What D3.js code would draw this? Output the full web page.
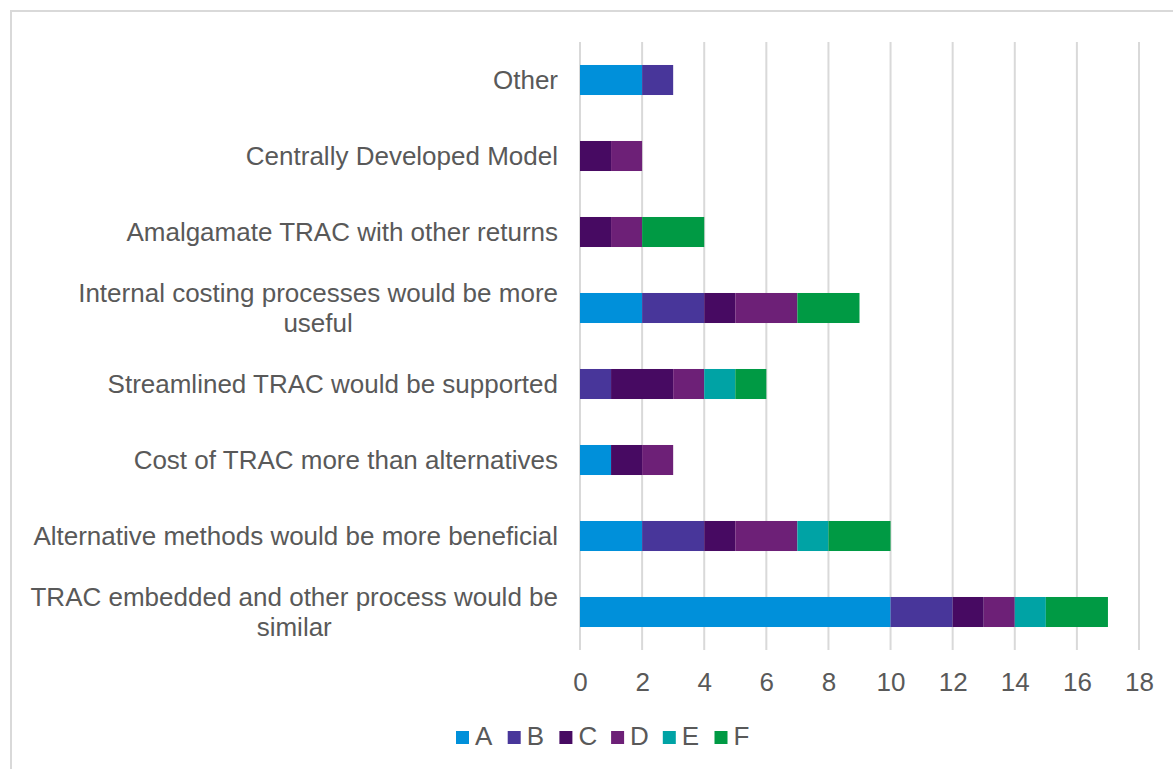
<!DOCTYPE html>
<html>
<head>
<meta charset="utf-8">
<script src="https://cdn.jsdelivr.net/npm/d3@7"></script>
<style>
  html, body { margin: 0; padding: 0; background: #fff; }
  svg { display: block; }
</style>
</head>
<body>
<svg id="chart" width="1173" height="769"></svg>
<script>
// ---- data ----
const categories = [
  "Other",
  "Centrally Developed Model",
  "Amalgamate TRAC with other returns",
  "Internal costing processes would be more useful",
  "Streamlined TRAC would be supported",
  "Cost of TRAC more than alternatives",
  "Alternative methods would be more beneficial",
  "TRAC embedded and other process would be similar"
];
const seriesNames = ["A", "B", "C", "D", "E", "F"];
const seriesColors = ["#0090DA", "#48369A", "#470A62", "#6D2077", "#00A3A5", "#009A44"];
const valuesA = [2, 0, 0, 2, 0, 1, 2, 10];
const valuesB = [1, 0, 0, 2, 1, 0, 2, 2];
const valuesC = [0, 1, 1, 1, 2, 1, 1, 1];
const valuesD = [0, 1, 1, 2, 1, 1, 2, 1];
const valuesE = [0, 0, 0, 0, 1, 0, 1, 1];
const valuesF = [0, 0, 2, 2, 1, 0, 2, 2];
const tickValues = [0, 2, 4, 6, 8, 10, 12, 14, 16, 18];

const allSeries = [valuesA, valuesB, valuesC, valuesD, valuesE, valuesF];
const rows = categories.map((c, i) => {
  const r = { cat: c };
  seriesNames.forEach((s, j) => r[s] = allSeries[j][i]);
  return r;
});

const svg = d3.select("#chart");
const textColor = "#595959";
const fontFamily = "'Liberation Sans', Arial, sans-serif";
const fontSize = 26;

// outer border
svg.append("rect")
  .attr("x", 11).attr("y", 11)
  .attr("width", 1300).attr("height", 900)
  .attr("fill", "none").attr("stroke", "#d9d9d9").attr("stroke-width", 2);

const x = d3.scaleLinear().domain([0, 18]).range([580, 1139]);
const y = d3.scaleBand().domain(categories).range([42, 650])
  .paddingInner(0.605).paddingOuter(0.3025);

// gridlines
svg.append("g").selectAll("line")
  .data(tickValues).join("line")
  .attr("x1", d => x(d)).attr("x2", d => x(d))
  .attr("y1", 42).attr("y2", 650)
  .attr("stroke", "#d9d9d9").attr("stroke-width", 2);

// stacked bars
const stack = d3.stack().keys(seriesNames)(rows);
const color = d3.scaleOrdinal().domain(seriesNames).range(seriesColors);
svg.append("g").selectAll("g")
  .data(stack).join("g")
  .attr("fill", d => color(d.key))
  .selectAll("rect")
  .data(d => d.filter(p => p[1] - p[0] > 0)).join("rect")
  .attr("x", d => x(d[0]))
  .attr("width", d => x(d[1]) - x(d[0]))
  .attr("y", d => y(d.data.cat))
  .attr("height", y.bandwidth());

// x axis tick labels
const xAxis = d3.axisBottom(x).tickValues(tickValues).tickSize(0).tickPadding(0);
const gx = svg.append("g").attr("transform", "translate(0,672)").call(xAxis);
gx.select(".domain").remove();
gx.selectAll("text")
  .attr("fill", textColor)
  .attr("font-family", fontFamily)
  .attr("font-size", fontSize)
  .attr("dy", null)
  .attr("y", 19);

// category labels with wrapping
const labelRight = 558;
const maxW = 540;
const lineH = 30;
const measurer = svg.append("text")
  .attr("font-family", fontFamily).attr("font-size", fontSize)
  .attr("visibility", "hidden");
function measure(t) { measurer.text(t); return measurer.node().getComputedTextLength(); }
function wrap(t) {
  const words = t.split(" ");
  const lines = [];
  let cur = "";
  words.forEach(w => {
    const test = cur ? cur + " " + w : w;
    if (measure(test) > maxW && cur) { lines.push(cur); cur = w; }
    else cur = test;
  });
  if (cur) lines.push(cur);
  return lines;
}
const gLabels = svg.append("g");
categories.forEach(c => {
  const lines = wrap(c);
  const widths = lines.map(measure);
  const blockW = d3.max(widths);
  const cx = labelRight - blockW / 2;
  const cy = y(c) + y.bandwidth() / 2;
  const n = lines.length;
  lines.forEach((ln, i) => {
    gLabels.append("text")
      .attr("x", cx)
      .attr("y", cy + 9.3 + (i - (n - 1) / 2) * lineH)
      .attr("text-anchor", "middle")
      .attr("fill", textColor)
      .attr("font-family", fontFamily)
      .attr("font-size", fontSize)
      .text(ln);
  });
});
measurer.remove();

// legend
const legendX0 = 456;
const legendStep = 51.7;
const legend = svg.append("g");
seriesNames.forEach((s, i) => {
  const lx = legendX0 + i * legendStep;
  legend.append("rect")
    .attr("x", lx).attr("y", 731)
    .attr("width", 13).attr("height", 13)
    .attr("fill", color(s));
  legend.append("text")
    .attr("x", lx + 19).attr("y", 744.5)
    .attr("fill", textColor)
    .attr("font-family", fontFamily)
    .attr("font-size", fontSize)
    .text(s);
});
</script>
</body>
</html>
